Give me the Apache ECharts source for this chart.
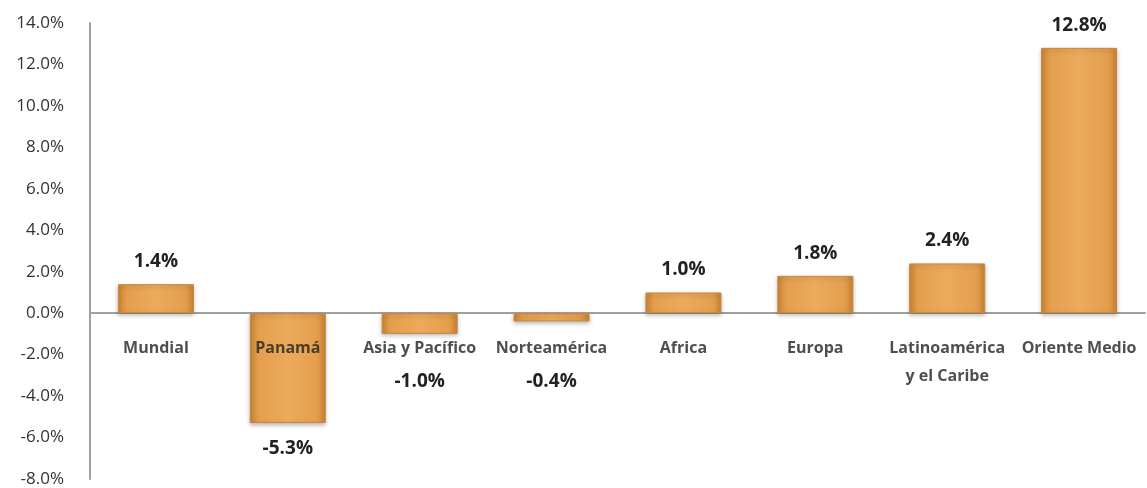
<!DOCTYPE html>
<html>
<head>
<meta charset="utf-8">
<script src="https://cdn.jsdelivr.net/npm/echarts@6/dist/echarts.min.js"></script>
<style>
  html, body { margin: 0; padding: 0; background: #fff; }
  #chart { width: 1147px; height: 488px; }
</style>
</head>
<body>
<div id="chart"></div>
<script>
  // data
  var categories = ['Mundial', 'Panamá', 'Asia y Pacífico', 'Norteamérica', 'Africa', 'Europa', 'Latinoamérica\ny el Caribe', 'Oriente Medio'];
  var values = [1.4, -5.3, -1.0, -0.4, 1.0, 1.8, 2.4, 12.8];
  var yMin = -8, yMax = 14, yStep = 2;

  var chart = echarts.init(document.getElementById('chart'));
  var font = '"Open Sans", Lato, sans-serif';

  var gridTop = 23, gridBottom = 9;
  var pxPer = (488 - gridTop - gridBottom) / (yMax - yMin);

  // negative labels: below the bar, but not above the category labels
  var seriesData = values.map(function (v) {
    if (v >= 0) return v;
    var dist = Math.max(16, (2.85 + v) * pxPer);
    return {
      value: v,
      label: { position: 'bottom', distance: dist }
    };
  });

  var option = {
    backgroundColor: '#fff',
    grid: { left: 90, right: 2, top: gridTop, bottom: gridBottom, outerBoundsMode: 'none', containLabel: false },
    xAxis: {
      type: 'category',
      data: categories,
      axisLine: { onZero: true, lineStyle: { color: '#a0a0a0', width: 2 } },
      axisTick: { show: false },
      axisLabel: { show: false }
    },
    yAxis: {
      type: 'value',
      min: yMin,
      max: yMax,
      interval: yStep,
      splitLine: { show: false },
      axisLine: { show: true, lineStyle: { color: '#a0a0a0', width: 2 } },
      axisTick: { show: false },
      axisLabel: {
        margin: 26,
        color: '#333',
        fontFamily: font,
        fontSize: 17,
        formatter: function (v) { return v.toFixed(1) + '%'; }
      }
    },
    series: [{
      type: 'bar',
      barWidth: 76,
      data: seriesData,
      itemStyle: {
        color: new echarts.graphic.LinearGradient(0, 0, 1, 0, [
          { offset: 0, color: '#C98434' },
          { offset: 0.12, color: '#E49E4E' },
          { offset: 0.5, color: '#EDAA5C' },
          { offset: 0.88, color: '#E49E4E' },
          { offset: 1, color: '#C98434' }
        ]),
        borderColor: '#C8883C',
        borderWidth: 1,
        shadowColor: 'rgba(0,0,0,0.25)',
        shadowBlur: 4,
        shadowOffsetY: 2
      },
      label: {
        show: true,
        position: 'top',
        distance: 13,
        color: '#222',
        fontFamily: font,
        fontWeight: 'bold',
        fontSize: 19,
        formatter: function (p) { return p.value.toFixed(1) + '%'; }
      }
    }, {
      // category names sitting just under the zero line
      type: 'scatter',
      data: categories.map(function () { return 0; }),
      symbolSize: 0,
      silent: true,
      z: 5,
      label: {
        show: true,
        position: 'bottom',
        distance: 21,
        color: '#222',
        fontFamily: font,
        fontWeight: 'bold',
        fontSize: 16,
        lineHeight: 28,
        formatter: function (p) { return categories[p.dataIndex]; }
      }
    }]
  };

  chart.setOption(option);
</script>
</body>
</html>
